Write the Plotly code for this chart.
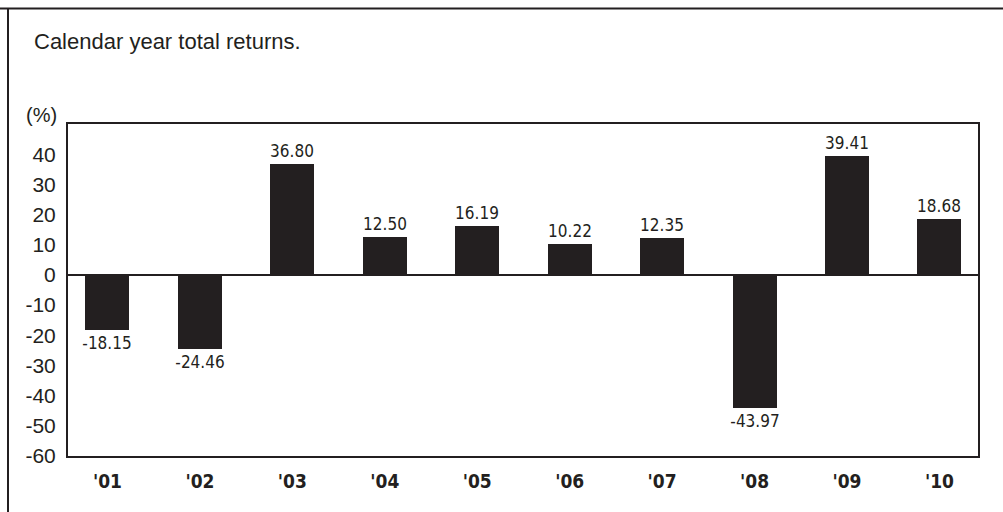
import plotly.graph_objects as go

years = ["'01", "'02", "'03", "'04", "'05", "'06", "'07", "'08", "'09", "'10"]
returns = [-18.15, -24.46, 36.80, 12.50, 16.19, 10.22, 12.35, -43.97, 39.41, 18.68]
labels = ["%.2f" % v for v in returns]
y_ticks = [40, 30, 20, 10, 0, -10, -20, -30, -40, -50, -60]

INK = "#231f20"
REG = "Liberation Sans, Arial, sans-serif"
NARROW = "DejaVu Sans Condensed, sans-serif"

x_pos = list(range(len(years)))

fig = go.Figure()
fig.add_trace(go.Bar(
    x=x_pos, y=returns, width=0.476,
    marker=dict(color=INK, line=dict(width=0)),
    text=labels, textposition="outside", cliponaxis=False,
    constraintext="none",
    textfont=dict(family=NARROW, size=17, color=INK),
    hoverinfo="skip",
))

fig.update_layout(
    width=1003, height=512,
    margin=dict(l=68, r=25, t=124, b=56),
    paper_bgcolor="white", plot_bgcolor="white",
    showlegend=False,
    bargap=0,
    xaxis=dict(
        range=[-0.427, 9.417], tickvals=x_pos, ticktext=years,
        showline=True, linecolor=INK, linewidth=2, mirror=True,
        showgrid=False, zeroline=False, ticks="",
        tickfont=dict(family=NARROW, size=19, color=INK, weight="bold"),
        ticklabelstandoff=7,
    ),
    yaxis=dict(
        range=[-60, 50], tickvals=y_ticks, ticktext=[str(v) for v in y_ticks],
        showline=True, linecolor=INK, linewidth=2, mirror=True,
        showgrid=False, zeroline=True, zerolinecolor=INK, zerolinewidth=2,
        ticks="", ticklabelstandoff=6,
        tickfont=dict(family=REG, size=21, color=INK),
    ),
    shapes=[
        dict(type="line", xref="paper", yref="paper", x0=-68/910, x1=1.1,
             y0=1 + (124 - 8.5) / 332, y1=1 + (124 - 8.5) / 332,
             line=dict(color=INK, width=2)),
        dict(type="line", xref="paper", yref="paper", x0=-60/910, x1=-60/910,
             y0=1 + (124 - 8.5) / 332, y1=-0.3,
             line=dict(color=INK, width=2)),
    ],
    annotations=[
        dict(text="Calendar year total returns.", xref="paper", yref="paper",
             x=-36/910, y=1 + (124 - 41) / 332, xanchor="left", yanchor="middle",
             showarrow=False, font=dict(family=REG, size=22, color=INK)),
        dict(text="(%)", xref="paper", yref="paper",
             x=-9/910, y=1 + (124 - 115) / 332, xanchor="right", yanchor="middle",
             showarrow=False, font=dict(family=REG, size=20, color=INK)),
    ],
)

fig.write_html("out.html")
